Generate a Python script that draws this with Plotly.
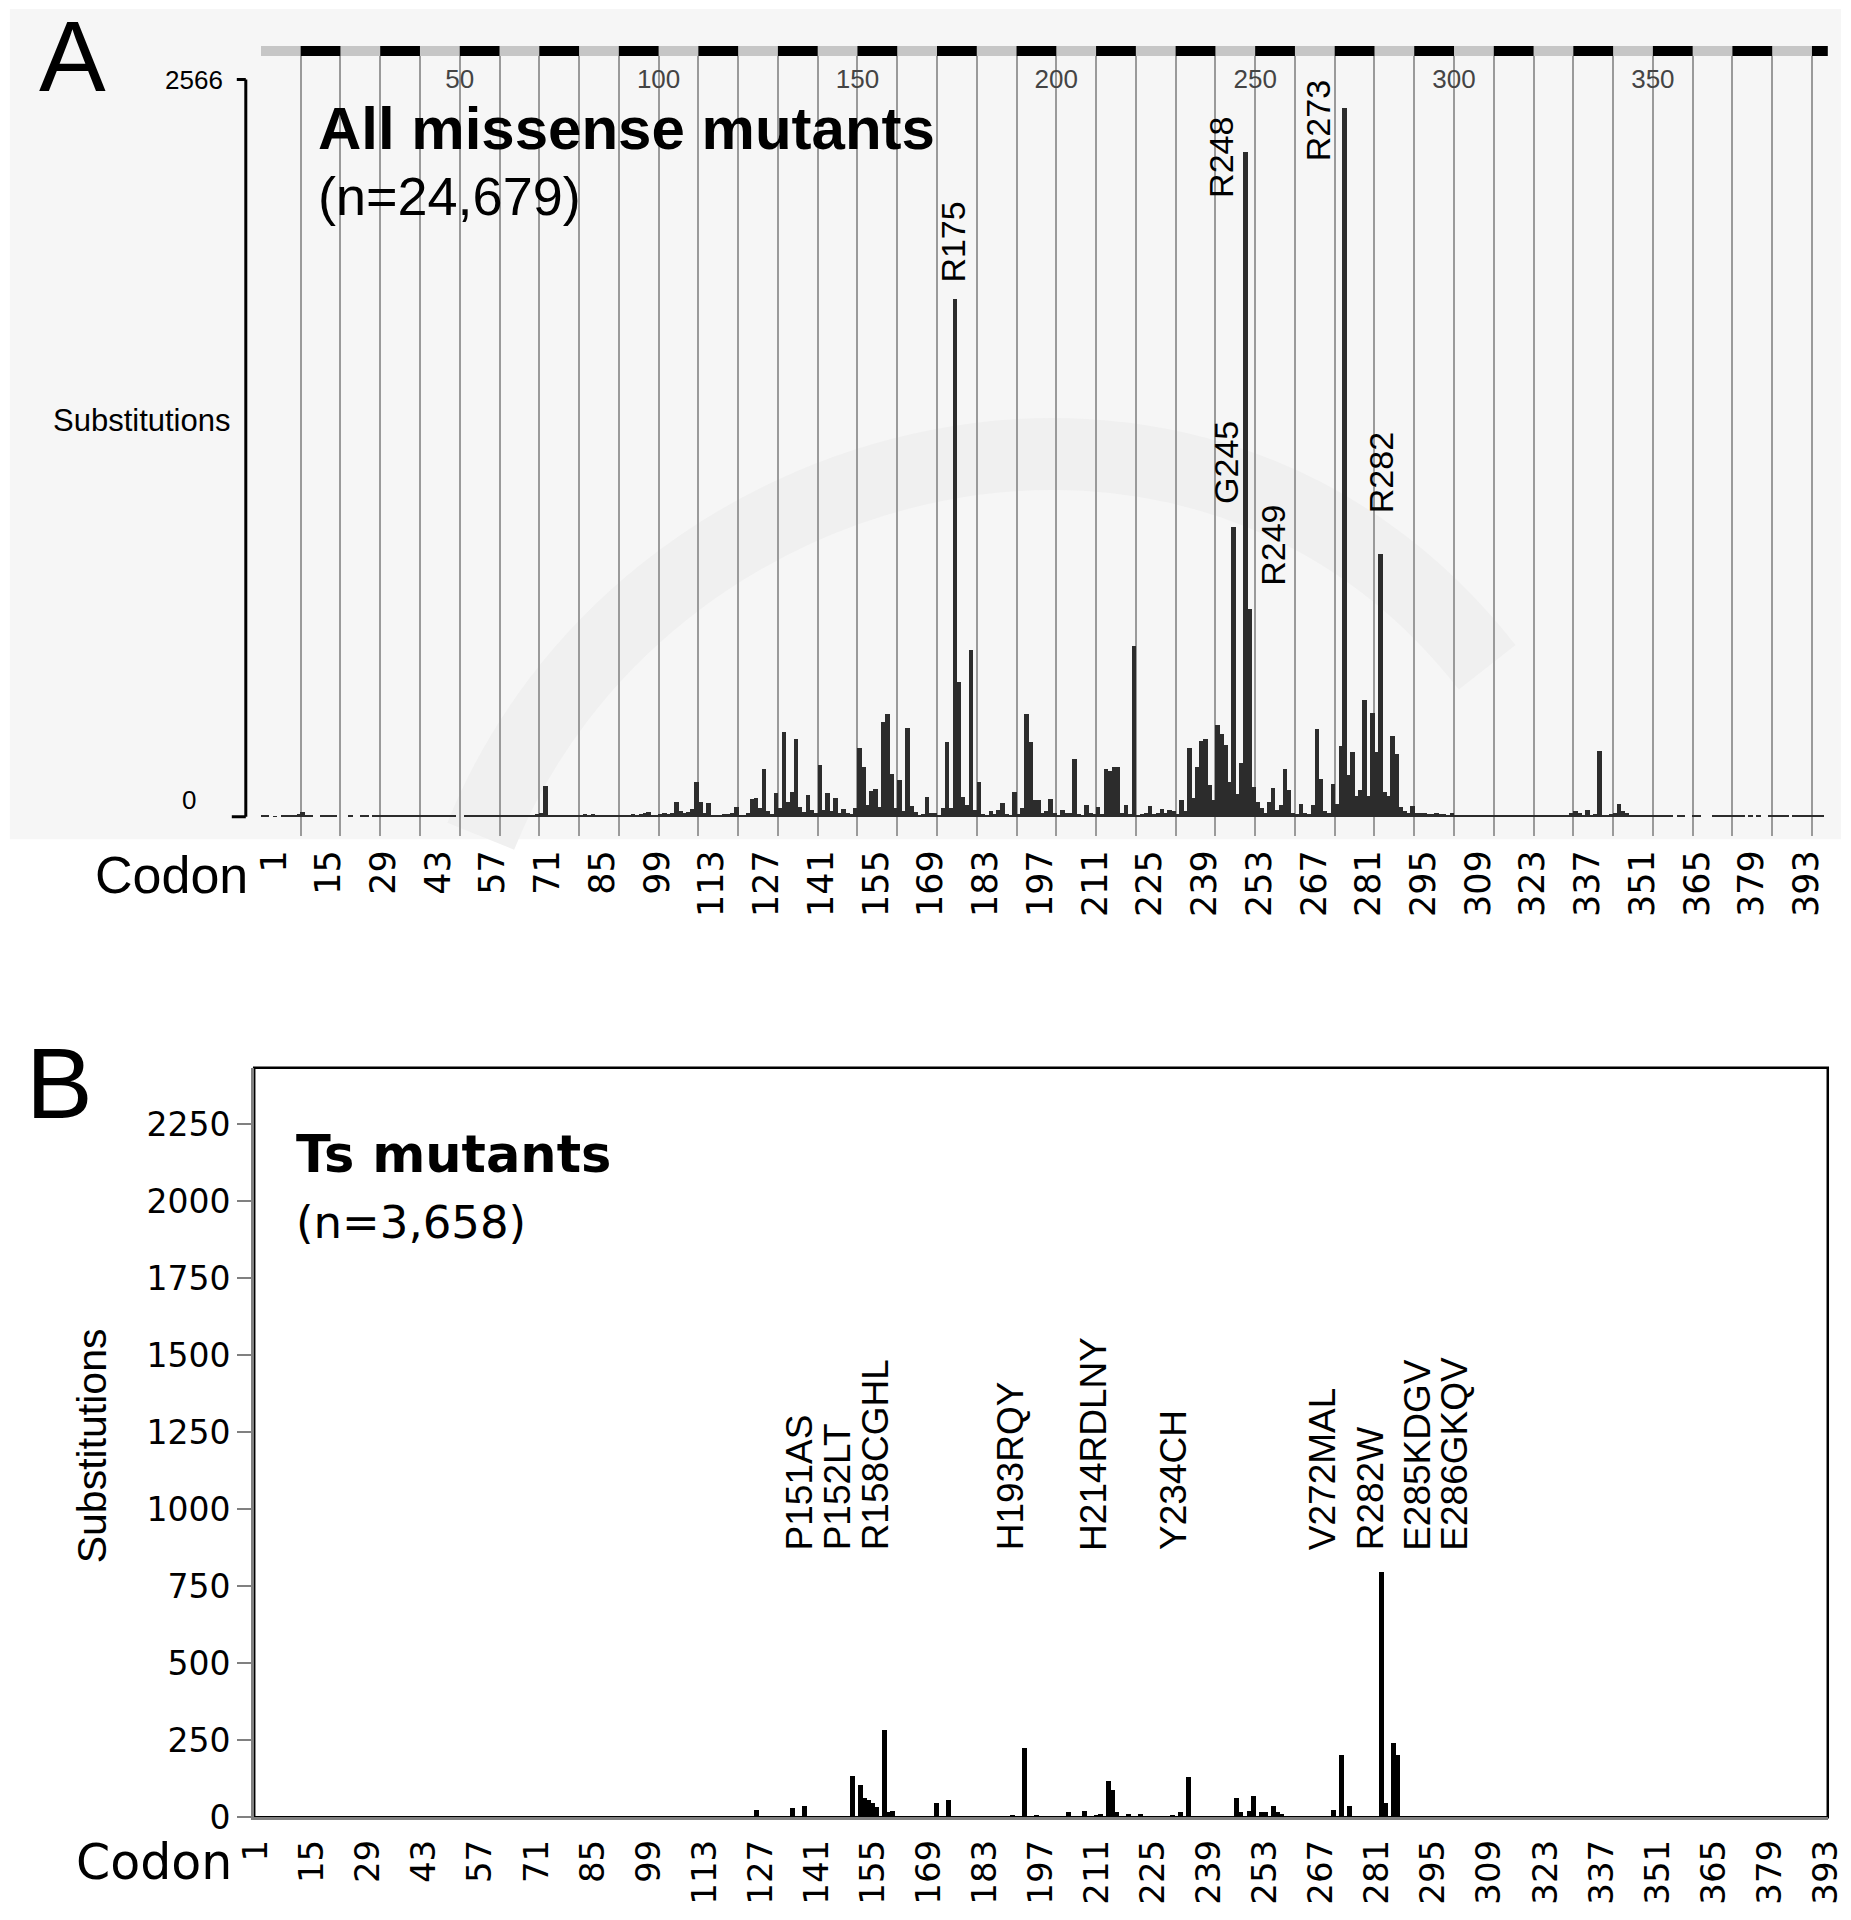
import plotly.graph_objects as go

W, H = 1851, 1920
# positions below; these factors map them
# onto the page as it is actually captured (measured with a ruler run)
SX, OFFX, SY = 0.981, 18.1, 0.9893


def fx(px):
    return (px - OFFX) / SX / W


def fy(px):
    return 1 - px / SY / H


# ---- panel A: all missense mutants, counts per codon 1..393 ----
missense_counts = [
    3, 3, 0, 2, 0, 4, 5, 3, 6, 10,            # 1-10
    17, 3, 5, 0, 0, 4, 3, 3, 3, 0,            # 11-20
    0, 0, 3, 0, 0, 3, 4, 0, 6, 8,             # 21-30
    5, 5, 5, 4, 4, 5, 4, 4, 5, 4,             # 31-40
    5, 6, 5, 6, 6, 7, 6, 8, 3, 0,             # 41-50
    0, 4, 5, 3, 5, 6, 5, 7, 6, 5,             # 51-60
    4, 5, 6, 5, 6, 7, 6, 7, 6, 9,             # 61-70
    12, 107, 8, 6, 5, 6, 5, 6, 7, 6,          # 71-80
    8, 9, 7, 10, 8, 7, 4, 6, 5, 6,            # 81-90
    7, 6, 8, 9, 8, 10, 12, 18, 8, 6,          # 91-100
    10, 14, 9, 12, 50, 20, 14, 16, 28, 122,   # 101-110
    50, 12, 49, 8, 7, 8, 9, 10, 12, 35,       # 111-120
    8, 6, 15, 62, 65, 30, 165, 20, 10, 82,    # 121-130
    30, 294, 50, 86, 270, 33, 18, 77, 25, 15,  # 131-140
    181, 25, 82, 20, 66, 12, 29, 15, 10, 30,  # 141-150
    239, 174, 40, 90, 96, 35, 331, 358, 148, 30,   # 151-160
    128, 20, 310, 38, 17, 8, 10, 68, 15, 14,  # 161-170
    8, 30, 260, 30, 1802, 470, 70, 40, 580, 25,    # 171-180
    121, 10, 5, 20, 10, 25, 48, 10, 8, 86,    # 181-190
    10, 30, 358, 262, 60, 58, 15, 20, 62, 12,  # 191-200
    8, 23, 15, 12, 203, 10, 8, 40, 12, 10,    # 201-210
    33, 10, 167, 160, 174, 172, 12, 40, 10, 596,   # 211-220
    8, 10, 15, 37, 10, 12, 29, 12, 25, 20,    # 221-230
    10, 60, 20, 240, 65, 174, 265, 272, 110, 60,   # 231-240
    320, 288, 250, 120, 1010, 80, 186, 2313, 724, 103,  # 241-250
    50, 30, 15, 52, 101, 25, 40, 166, 94, 15,  # 251-260
    10, 46, 12, 10, 40, 305, 131, 20, 12, 114,  # 261-270
    44, 245, 2466, 145, 225, 73, 92, 407, 73, 360,  # 271-280
    225, 916, 85, 73, 283, 218, 34, 19, 12, 38,  # 281-290
    14, 12, 12, 11, 10, 12, 9, 10, 8, 15,     # 291-300
    8, 7, 6, 6, 5, 5, 4, 4, 4, 4,             # 301-310
    4, 4, 5, 4, 5, 6, 5, 6, 4, 3,             # 311-320
    5, 6, 4, 4, 5, 4, 5, 6, 8, 12,            # 321-330
    22, 14, 8, 25, 6, 10, 230, 8, 6, 10,      # 331-340
    14, 43, 20, 12, 8, 7, 5, 4, 6, 5,         # 341-350
    4, 5, 4, 6, 5, 0, 4, 3, 0, 0,             # 351-360
    3, 4, 0, 0, 0, 3, 4, 5, 4, 6,             # 361-370
    5, 6, 4, 0, 3, 0, 3, 0, 0, 4,             # 371-380
    3, 4, 5, 3, 0, 3, 4, 5, 4, 3,             # 381-390
    4, 3, 3,                                  # 391-393
]
codons = list(range(1, len(missense_counts) + 1))

hotspot_names = ["R175", "R248", "R273", "G245", "R249", "R282"]
hotspot_label_x = [174.5, 241.9, 266.5, 243.1, 255.1, 282.2]
hotspot_label_y = [1854, 2149, 2276, 1083, 797, 1049]

codon_ticks = list(range(1, 394, 14))
track_labels = [50, 100, 150, 200, 250, 300, 350]

# ---- panel B: Ts mutants ----
ts_codons = [1, 99, 126, 131, 135, 138, 146, 150, 152, 153,
             154, 155, 156, 158, 159, 160, 164, 171, 174, 189,
             190, 193, 196, 204, 208, 211, 212, 214, 215, 216,
             219, 222, 228, 230, 232, 234, 239, 246, 247, 249,
             250, 252, 253, 255, 256, 257, 268, 270, 272, 274,
             282, 283, 285, 286, 289, 393]
ts_counts = [5, 5, 25, 6, 32, 36, 5, 135, 105, 63,
             57, 46, 34, 283, 17, 21, 5, 46, 57, 5,
             9, 226, 9, 17, 21, 9, 11, 118, 89, 17,
             11, 11, 6, 9, 17, 131, 5, 63, 17, 21,
             68, 17, 17, 36, 17, 11, 5, 25, 203, 36,
             797, 46, 242, 203, 6, 4]

ts_names = ["P151AS", "P152LT", "R158CGHL", "H193RQY", "H214RDLNY",
            "Y234CH", "V272MAL", "R282W", "E285KDGV", "E286GKQV"]
ts_label_x = [136.8, 146.4, 155.9, 189.6, 210.1, 230.1, 267.5, 279.5, 291.0, 300.2]
ts_yticks = list(range(0, 2251, 250))

SANS = "Liberation Sans, Arial, sans-serif"
DEJAVU = "DejaVu Sans, Verdana, sans-serif"

fig = go.Figure()

fig.add_trace(go.Bar(
    x=codons, y=missense_counts, xaxis="x", yaxis="y",
    marker=dict(color="#2c2c2c", line=dict(width=0)),
    width=1.15, showlegend=False, hoverinfo="x+y"))

# carrier trace so the codon label axis of panel A is drawn
fig.add_trace(go.Scatter(
    x=[codon_ticks[0], codon_ticks[-1]], y=[0, 0], xaxis="x3", yaxis="y",
    mode="markers", marker=dict(opacity=0), showlegend=False, hoverinfo="skip"))

fig.add_trace(go.Bar(
    x=ts_codons, y=ts_counts, xaxis="x2", yaxis="y2",
    marker=dict(color="black", line=dict(width=0)),
    width=1.25, showlegend=False, hoverinfo="x+y"))

grid_vals = [0.5 + 10 * k for k in range(40)] + [394.5]
grid_text = [str(int(v - 0.5)) if int(v - 0.5) in track_labels else "" for v in grid_vals]

fig.update_layout(
    width=W, height=H,
    margin=dict(l=0, r=0, t=0, b=0),
    paper_bgcolor="white",
    plot_bgcolor="rgba(0,0,0,0)",
    font=dict(family=SANS, color="black"),
    xaxis=dict(
        domain=[fx(260.1), fx(1827.8)], range=[0.5, 394.5], anchor="y",
        side="top", tickmode="array", tickvals=grid_vals, ticktext=grid_text,
        ticklabelposition="inside", ticks="", ticklabelstandoff=21,
        tickfont=dict(family=SANS, size=26),
        showgrid=True, gridcolor="#9a9a9a", gridwidth=1.6,
        zeroline=False, showline=False, fixedrange=True),
    yaxis=dict(
        domain=[fy(836), fy(46)], range=[-67.5, 2683], anchor="x",
        visible=False, showgrid=False, zeroline=False, fixedrange=True),
    xaxis3=dict(
        overlaying="x", anchor="y", side="bottom", range=[-2.4, 398.4],
        tickmode="array", tickvals=codon_ticks, tickangle=-90, ticks="",
        ticklabelstandoff=6, ticklabeloverflow="allow",
        tickfont=dict(family=DEJAVU, size=35),
        showgrid=False, zeroline=False, showline=False, fixedrange=True),
    xaxis2=dict(
        domain=[fx(253.4), fx(1827.7)], range=[0.5, 393.5], anchor="y2",
        tickmode="array", tickvals=codon_ticks, tickangle=-90, ticks="",
        ticklabelstandoff=6, ticklabeloverflow="allow",
        tickfont=dict(family=DEJAVU, size=34),
        showline=True, linecolor="#808080", linewidth=3,
        showgrid=False, zeroline=False, fixedrange=True),
    yaxis2=dict(
        domain=[fy(1816.7), fy(1067.5)], range=[0, 2433], anchor="x2",
        tickmode="array", tickvals=ts_yticks, ticks="outside", ticklen=14,
        tickwidth=2, tickcolor="#808080",
        tickfont=dict(family=DEJAVU, size=33),
        showline=True, linecolor="#808080", linewidth=3,
        showgrid=False, zeroline=False, fixedrange=True),
    bargap=0,
)

shapes = []
# grey panel background for A
shapes.append(dict(type="rect", xref="paper", yref="paper",
                   x0=fx(9), x1=fx(1841), y0=fy(839), y1=fy(9),
                   fillcolor="#f6f6f6", line=dict(width=0), layer="below"))
# faint watermark arc behind panel A
arc = "M {:.4f},{:.4f} C {:.4f},{:.4f} {:.4f},{:.4f} {:.4f},{:.4f}".format(
    fx(480), fy(836), fx(640), fy(440), fx(1200), fy(300), fx(1487), fy(667))
shapes.append(dict(type="path", xref="paper", yref="paper", path=arc,
                   line=dict(color="#f0f0f0", width=72), layer="below"))
# domain track across the top of panel A
shapes.append(dict(type="rect", xref="x", yref="paper",
                   x0=0.5, x1=394.5, y0=fy(56), y1=fy(46),
                   fillcolor="#c6c6c6", line=dict(width=0), layer="above"))
for start in range(10, 400, 20):
    shapes.append(dict(type="rect", xref="x", yref="paper",
                       x0=start + 0.5, x1=min(start + 10.5, 394.5),
                       y0=fy(56), y1=fy(46),
                       fillcolor="black", line=dict(width=0), layer="above"))
# y bracket of panel A (0 .. 2566)
shapes.append(dict(type="line", xref="paper", yref="y",
                   x0=fx(245), x1=fx(245), y0=0, y1=2566,
                   line=dict(color="black", width=3)))
for yv, x_left in [(2566, 236), (0, 231)]:
    shapes.append(dict(type="line", xref="paper", yref="y",
                       x0=fx(x_left), x1=fx(245), y0=yv, y1=yv,
                       line=dict(color="black", width=3)))
# frame of panel B (top / right in black)
shapes.append(dict(type="rect", xref="paper", yref="paper",
                   x0=fx(253.4), x1=fx(1827.7), y0=fy(1816.7), y1=fy(1067.5),
                   line=dict(color="black", width=2.5), fillcolor="rgba(0,0,0,0)",
                   layer="below"))
fig.update_layout(shapes=shapes)


def note(text, x, y, size, family=SANS, xanchor="center", yanchor="middle",
         angle=0, xref="paper", yref="paper", **kw):
    return dict(text=text, x=x, y=y, xref=xref, yref=yref, xanchor=xanchor,
                yanchor=yanchor, textangle=angle, showarrow=False,
                font=dict(family=family, size=size, color="black"), **kw)


ann = [
    note("A", fx(72), fy(56), 100),
    note("B", fx(59), fy(1083), 100),
    note("<b>All missense mutants</b>", fx(315), fy(128), 60, xanchor="left"),
    note("(n=24,679)", fx(315), fy(196), 54, xanchor="left"),
    note("Substitutions", fx(141), fy(420), 31),
    note("2566", fx(224), 2566, 26, xanchor="right", yref="y"),
    note("0", fx(197), 0, 26, xanchor="right", yref="y", yshift=17),
    note("Codon", fx(249), fy(875), 52, xanchor="right"),
    note("<b>Ts mutants</b>", fx(293), fy(1154), 51, family=DEJAVU, xanchor="left"),
    note("(n=3,658)", fx(293), fy(1222), 45, family=DEJAVU, xanchor="left"),
    note("Substitutions", fx(92), fy(1445), 41, angle=-90),
    note("Codon", fx(233), fy(1862), 49, family=DEJAVU, xanchor="right"),
]
for name, lx, ly in zip(hotspot_names, hotspot_label_x, hotspot_label_y):
    ann.append(note(name, lx, ly, 34, yanchor="bottom", angle=-90, xref="x", yref="y"))
for name, lx in zip(ts_names, ts_label_x):
    ann.append(note(name, lx, fy(1552), 37, yanchor="bottom", angle=-90, xref="x2"))
fig.update_layout(annotations=ann)

# the figure fills the window exactly: drop the default page margin
page_js = ("document.body.style.margin='0';"
           "document.body.style.overflow='hidden';"
           "document.documentElement.style.overflow='hidden';")
fig.write_html("out.html", post_script=page_js, config={"displayModeBar": False})
